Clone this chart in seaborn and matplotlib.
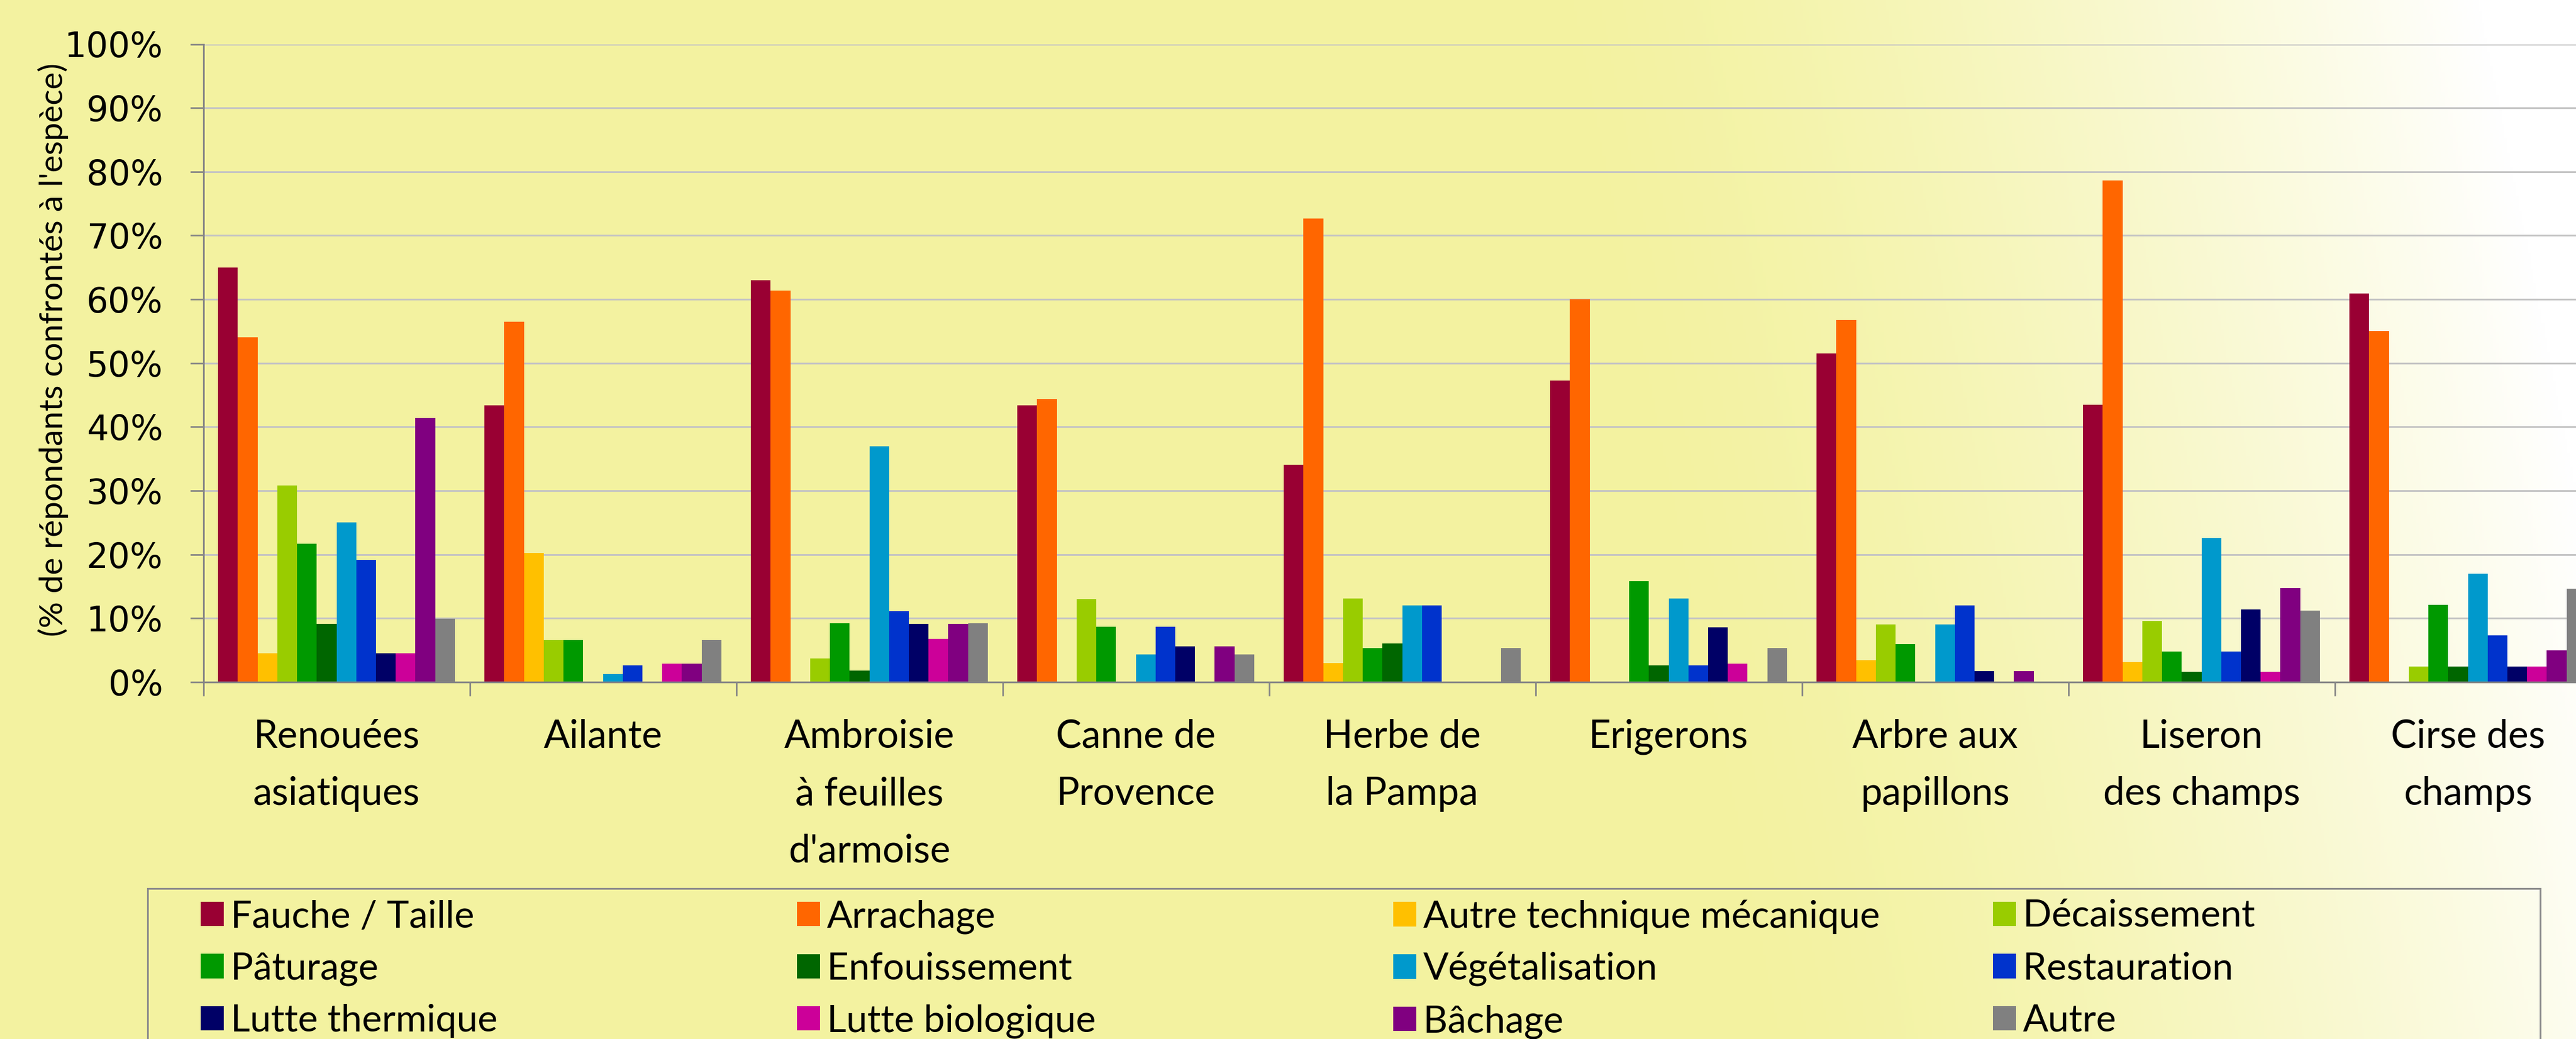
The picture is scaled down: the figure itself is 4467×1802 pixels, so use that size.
import numpy as np
import pandas as pd
import matplotlib
matplotlib.use("Agg")
import matplotlib.pyplot as plt
import seaborn as sns
from matplotlib.patches import Rectangle

# ---------------- data ----------------
categories = ["Renouées\nasiatiques", "Ailante", "Ambroisie\nà feuilles\nd'armoise",
              "Canne de\nProvence", "Herbe de\nla Pampa", "Erigerons",
              "Arbre aux\npapillons", "Liseron\ndes champs", "Cirse des\nchamps"]

methods = ["Fauche / Taille", "Arrachage", "Autre technique mécanique", "Décaissement",
           "Pâturage", "Enfouissement", "Végétalisation", "Restauration",
           "Lutte thermique", "Lutte biologique", "Bâchage", "Autre"]

colors = ["#990033", "#FF6600", "#FFC000", "#99CC00", "#009900", "#006600",
          "#0099CC", "#0033CC", "#000066", "#CC0099", "#800080", "#808080"]

fauche = [65.0, 43.4, 63.0, 43.4, 34.1, 47.3, 51.5, 43.5, 60.9]
arrachage = [54.0, 56.5, 61.4, 44.4, 72.7, 60.0, 56.8, 78.6, 55.0]
autre_tech = [4.5, 20.2, 0, 0, 3.0, 0, 3.4, 3.2, 0]
decaissement = [30.8, 6.6, 3.7, 13.0, 13.1, 0, 9.0, 9.6, 2.4]
paturage = [21.7, 6.6, 9.2, 8.7, 5.3, 15.8, 6.0, 4.8, 12.1]
enfouissement = [9.1, 0, 1.8, 0, 6.1, 2.6, 0, 1.6, 2.4]
vegetalisation = [25.0, 1.3, 37.0, 4.3, 12.0, 13.1, 9.0, 22.6, 17.0]
restauration = [19.2, 2.6, 11.1, 8.7, 12.0, 2.6, 12.0, 4.8, 7.3]
lutte_thermique = [4.5, 0, 9.1, 5.6, 0, 8.6, 1.7, 11.4, 2.4]
lutte_bio = [4.5, 2.9, 6.8, 0, 0, 2.9, 0, 1.6, 2.4]
bachage = [41.4, 2.9, 9.1, 5.6, 0, 0, 1.7, 14.7, 5.0]
autre = [9.9, 6.6, 9.2, 4.3, 5.3, 5.3, 0, 11.2, 14.6]

yticks = [0, 10, 20, 30, 40, 50, 60, 70, 80, 90, 100]
ylabel = "(% de répondants confrontés à l'espèce)"

series = [fauche, arrachage, autre_tech, decaissement, paturage, enfouissement,
          vegetalisation, restauration, lutte_thermique, lutte_bio, bachage, autre]

df = pd.DataFrame([
    {"Espèce": c, "Méthode": m, "Valeur": v}
    for m, vals in zip(methods, series)
    for c, v in zip(categories, vals)
])

# ---------------- figure ----------------
W, H = 4467, 1802
DPI = 100
fig = plt.figure(figsize=(W / DPI, H / DPI), dpi=DPI)

# background gradient (yellow -> white towards the right, slightly diagonal)
bg = fig.add_axes([0, 0, 1, 1], zorder=-10)
xs = np.linspace(0, W, 900)
ys = np.linspace(0, H, 360)
X, Y = np.meshgrid(xs, ys)
t = np.clip((X - (2650 + 0.2 * Y)) / 1650.0, 0, 1) ** 1.5
yellow = np.array([243, 242, 160]) / 255.0
white = np.array([1.0, 1.0, 1.0])
img = yellow[None, None, :] * (1 - t[..., None]) + white[None, None, :] * t[..., None]
bg.imshow(img, extent=[0, 1, 0, 1], aspect="auto", origin="upper")
bg.set_axis_off()

# main axes (right edge extends beyond the figure, as in the reference)
x0, x1 = 352.6, 352.6 + 9 * 462.0
y0, y1 = 1183.0, 76.5
ax = fig.add_axes([x0 / W, 1 - y0 / H, (x1 - x0) / W, (y0 - y1) / H])
ax.set_facecolor("none")

sns.barplot(data=df, x="Espèce", y="Valeur", hue="Méthode",
            order=categories, hue_order=methods, palette=colors,
            saturation=1, width=12 / 13.5, errorbar=None, linewidth=0,
            ax=ax, legend=True)

handles, labels = ax.get_legend_handles_labels()
if ax.get_legend() is not None:
    ax.get_legend().remove()

ax.set_xlim(-0.5, len(categories) - 0.5)
ax.set_ylim(0, 100)
ax.set_yticks(yticks)
ax.set_yticklabels([f"{v}%" for v in yticks], fontfamily="DejaVu Sans", fontsize=43)
ax.yaxis.grid(True, color="#C4C4C4", linewidth=2.2)
ax.set_axisbelow(True)

# category labels at centers, tick marks at boundaries
ax.set_xticks(np.arange(len(categories)))
ax.set_xticklabels(categories, fontfamily="Lato", fontsize=48, linespacing=1.75,
                   va="top", ha="center")
ax.set_xticks(np.arange(-0.5, len(categories), 1), minor=True)
ax.tick_params(axis="x", which="major", length=0, pad=46)
ax.tick_params(axis="x", which="minor", length=17, width=2.0, color="#868686")
ax.tick_params(axis="y", which="major", length=16.5, width=2.0, color="#868686", pad=34)

for s in ["top", "right"]:
    ax.spines[s].set_visible(False)
for s in ["left", "bottom"]:
    ax.spines[s].set_color("#868686")
    ax.spines[s].set_linewidth(2.2)

ax.set_xlabel("")
ax.set_ylabel(ylabel, fontfamily="Lato", fontsize=41, va="center", ha="center")
ax.yaxis.set_label_coords((92 - x0) / (x1 - x0), (y0 - 607) / (y0 - y1))

# ---------------- legend (4 columns, row-major order) ----------------
col_x = [348, 1382, 2416, 3456]
top_y = 1560
for c in range(4):
    idx = [r * 4 + c for r in range(3)]
    leg = ax.legend([handles[i] for i in idx], [labels[i] for i in idx],
                    loc="upper left",
                    bbox_to_anchor=(col_x[c] / W, 1 - top_y / H),
                    bbox_transform=fig.transFigure,
                    frameon=False, ncol=1, borderpad=0, borderaxespad=0,
                    handlelength=0.62, handleheight=0.62, handletextpad=0.18,
                    labelspacing=0.48,
                    prop={"family": "Lato", "size": 47})
    if c < 3:
        ax.add_artist(leg)

frame = Rectangle((256 / W, 0 - 0.05), (4405 - 256) / W, (H - 1541) / H + 0.05,
                  transform=fig.transFigure, fill=False, edgecolor="#8C8C8C",
                  linewidth=2.2, zorder=5)
fig.add_artist(frame)

fig.savefig("out.png", dpi=DPI)
